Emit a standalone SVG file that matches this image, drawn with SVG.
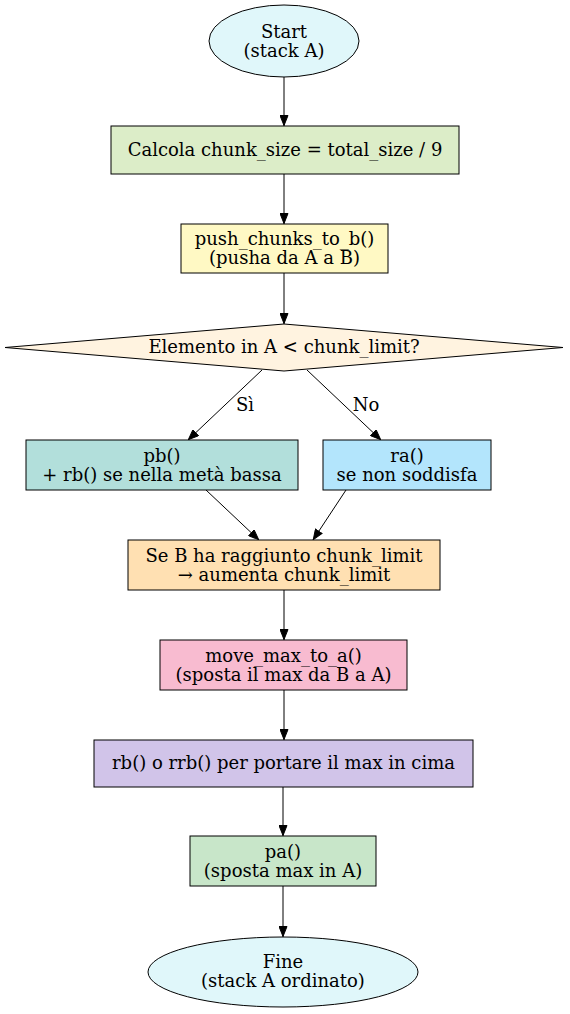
<svg xmlns="http://www.w3.org/2000/svg" width="570" height="1014" viewBox="0 0 570 1014">
<defs>
<style>
text{font-family:"DejaVu Serif","Liberation Serif",serif;font-size:18px;fill:#000;text-anchor:middle}
.n{stroke:#000;stroke-width:1}
.e{stroke:#000;stroke-width:1;fill:none;marker-end:url(#ah)}
</style>
<marker id="ah" markerWidth="11" markerHeight="9" refX="11" refY="4.5" orient="auto" markerUnits="userSpaceOnUse">
<path d="M0.5,0.5 L10.5,4.5 L0.5,8.5 Z" fill="#000" stroke="#000" stroke-width="1"/>
</marker>
</defs>
<rect width="570" height="1014" fill="#fff"/>
<g id="connectors">
<line class="e" x1="284" y1="77" x2="284" y2="126"/>
<line class="e" x1="284" y1="174" x2="284" y2="224"/>
<line class="e" x1="284" y1="273" x2="284" y2="324"/>
<line class="e" x1="262" y1="370" x2="188" y2="440"/>
<line class="e" x1="307" y1="370" x2="381" y2="440"/>
<line class="e" x1="206" y1="490" x2="259" y2="540"/>
<line class="e" x1="346" y1="490" x2="313" y2="540"/>
<line class="e" x1="284" y1="590" x2="284" y2="640"/>
<line class="e" x1="284" y1="690" x2="284" y2="740"/>
<line class="e" x1="283" y1="787" x2="283" y2="836"/>
<line class="e" x1="283" y1="886" x2="283" y2="937"/>
<text x="245" y="411">Sì</text>
<text x="366" y="411">No</text>
</g>
<g id="start">
<ellipse class="n" cx="284" cy="41" rx="75" ry="36" fill="#e0f7fa"/>
<text x="284" y="37.5">Start</text>
<text x="284" y="56.5">(stack A)</text>
</g>
<g id="calcola">
<rect class="n" x="111" y="126" width="348" height="48" fill="#dcedc8"/>
<text x="285" y="156">Calcola chunk_size = total_size / 9</text>
</g>
<g id="push">
<rect class="n" x="181" y="224" width="207" height="49" fill="#fff9c4"/>
<text x="284.5" y="245">push_chunks_to_b()</text>
<text x="284.5" y="264">(pusha da A a B)</text>
</g>
<g id="decision">
<polygon class="n" points="284,324 563,347.5 284,371 5,347.5" fill="#fff3e0"/>
<text x="284" y="353">Elemento in A &lt; chunk_limit?</text>
</g>
<g id="pb">
<rect class="n" x="26" y="440" width="272" height="50" fill="#b2dfdb"/>
<text x="162" y="461.5">pb()</text>
<text x="162" y="480.5">+ rb() se nella metà bassa</text>
</g>
<g id="ra">
<rect class="n" x="323" y="440" width="168" height="50" fill="#b3e5fc"/>
<text x="407" y="461.5">ra()</text>
<text x="407" y="480.5">se non soddisfa</text>
</g>
<g id="check">
<rect class="n" x="128" y="540" width="312" height="50" fill="#ffe0b2"/>
<text x="284" y="561.5">Se B ha raggiunto chunk_limit</text>
<text x="284" y="580.5">→ aumenta chunk_limit</text>
</g>
<g id="move">
<rect class="n" x="160" y="640" width="247" height="50" fill="#f8bbd0"/>
<text x="283.5" y="661.5">move_max_to_a()</text>
<text x="283.5" y="680.5">(sposta il max da B a A)</text>
</g>
<g id="rotate">
<rect class="n" x="94" y="740" width="379" height="47" fill="#d1c4e9"/>
<text x="283.5" y="769">rb() o rrb() per portare il max in cima</text>
</g>
<g id="pa">
<rect class="n" x="190" y="836" width="186" height="50" fill="#c8e6c9"/>
<text x="283" y="857.5">pa()</text>
<text x="283" y="876.5">(sposta max in A)</text>
</g>
<g id="fine">
<ellipse class="n" cx="283" cy="972" rx="135" ry="35" fill="#e0f7fa"/>
<text x="283" y="967.5">Fine</text>
<text x="283" y="986.5">(stack A ordinato)</text>
</g>
</svg>
